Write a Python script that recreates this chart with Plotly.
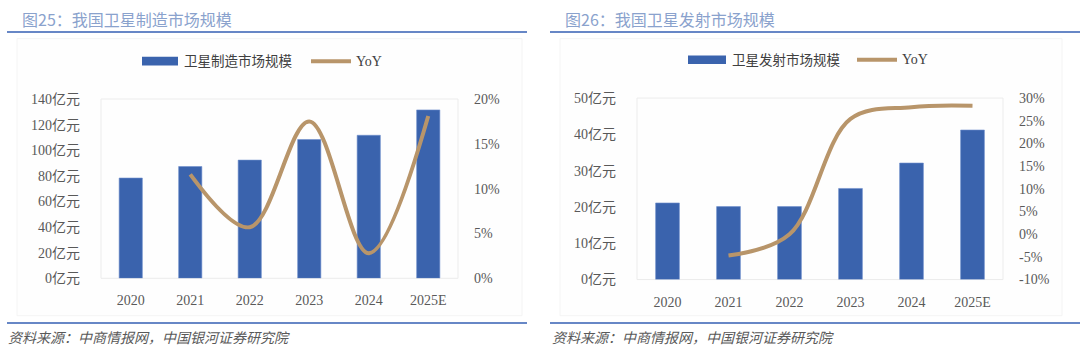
import plotly.graph_objects as go

# ---------------- data ----------------
years = ["2020", "2021", "2022", "2023", "2024", "2025E"]

mfg_title = "图25：我国卫星制造市场规模"
mfg_name = "卫星制造市场规模"
mfg_values = [78.3, 87.3, 92.3, 108.4, 111.7, 131.5]          # 亿元
mfg_yoy = [None, 0.116, 0.057, 0.175, 0.028, 0.181]

launch_title = "图26：我国卫星发射市场规模"
launch_name = "卫星发射市场规模"
launch_values = [21.1, 20.1, 20.1, 25.1, 32.1, 41.2]          # 亿元
launch_yoy = [None, -0.047, 0.0, 0.254, 0.28, 0.283]

yoy_name = "YoY"
source_text = "资料来源：中商情报网，中国银河证券研究院"

unit = "亿元"
left_ticks = [0, 20, 40, 60, 80, 100, 120, 140]
left_pct_ticks = [0, 0.05, 0.10, 0.15, 0.20]
left_pct_text = ["0%", "5%", "10%", "15%", "20%"]
right_ticks = [0, 10, 20, 30, 40, 50]
right_pct_ticks = [-0.10, -0.05, 0, 0.05, 0.10, 0.15, 0.20, 0.25, 0.30]
right_pct_text = ["-10%", "-5%", "0%", "5%", "10%", "15%", "20%", "25%", "30%"]

# ---------------- style ----------------
W, H = 1080, 363
BAR = "#3a63ad"
LINE = "#b8956a"
TICK = "#595959"
SERIF = "Liberation Serif, Noto Sans CJK SC, serif"
SANS = "Noto Sans CJK SC, sans-serif"


def px(x):
    return x / W


def py(y):
    return 1 - y / H


fig = go.Figure()

fig.add_trace(go.Bar(x=years, y=mfg_values, name=mfg_name,
                     marker=dict(color=BAR, line=dict(color="#6f8fcc", width=0.6)),
                     width=0.39, xaxis="x", yaxis="y", showlegend=False))
fig.add_trace(go.Scatter(x=years, y=mfg_yoy, name=yoy_name, mode="lines",
                         line=dict(color=LINE, width=4, shape="spline", smoothing=1.0),
                         xaxis="x", yaxis="y2", showlegend=False))
fig.add_trace(go.Bar(x=years, y=launch_values, name=launch_name,
                     marker=dict(color=BAR, line=dict(color="#6f8fcc", width=0.6)),
                     width=0.39, xaxis="x2", yaxis="y3", showlegend=False))
fig.add_trace(go.Scatter(x=years, y=launch_yoy, name=yoy_name, mode="lines",
                         line=dict(color=LINE, width=4, shape="spline", smoothing=1.0),
                         xaxis="x2", yaxis="y4", showlegend=False))

tickfont = dict(family=SERIF, size=14, color=TICK)

L_dom_x = [px(101), px(458)]
L_dom_y = [py(283), py(96)]
R_dom_x = [px(637), px(1003)]
R_dom_y = [py(284.3), py(95)]

fig.update_layout(
    autosize=True,
    margin=dict(l=0, r=0, t=0, b=0),
    paper_bgcolor="white", plot_bgcolor="rgba(0,0,0,0)",
    xaxis=dict(domain=L_dom_x, anchor="y", tickfont=tickfont, showgrid=False, ticks="",
               ticklabelstandoff=12),
    yaxis=dict(domain=L_dom_y, anchor="x", range=[0, 140], tickvals=left_ticks,
               ticktext=[f"{v}{unit}" for v in left_ticks],
               tickfont=tickfont, showgrid=False, zeroline=False, ticklabelstandoff=20),
    yaxis2=dict(overlaying="y", side="right", anchor="x", range=[0, 0.20], tickvals=left_pct_ticks,
                ticktext=left_pct_text, tickfont=tickfont, showgrid=False, zeroline=False,
                ticklabelstandoff=15),
    xaxis2=dict(domain=R_dom_x, anchor="y3", tickfont=tickfont, showgrid=False, ticks="",
                ticklabelstandoff=12),
    yaxis3=dict(domain=R_dom_y, anchor="x2", range=[0, 50], tickvals=right_ticks,
                ticktext=[f"{v}{unit}" for v in right_ticks],
                tickfont=tickfont, showgrid=False, zeroline=False, ticklabelstandoff=20),
    yaxis4=dict(overlaying="y3", side="right", anchor="x2", range=[-0.10, 0.30], tickvals=right_pct_ticks,
                ticktext=right_pct_text, tickfont=tickfont, showgrid=False, zeroline=False,
                ticklabelstandoff=15),
)

shapes = []
annotations = []

# panel frames (very faint) and plot-area boxes
for (x0, x1) in [(17, 522), (560, 1062)]:
    shapes.append(dict(type="rect", xref="paper", yref="paper", x0=px(x0), x1=px(x1), y0=py(322), y1=py(33),
                       line=dict(color="#f4f4f4", width=1), fillcolor="#fefefe", layer="below"))
for dx, dy in [(L_dom_x, L_dom_y), (R_dom_x, R_dom_y)]:
    shapes.append(dict(type="rect", xref="paper", yref="paper", x0=dx[0], x1=dx[1], y0=dy[0], y1=dy[1],
                       line=dict(color="#ececec", width=1), fillcolor="rgba(0,0,0,0)", layer="below"))

# title and bottom separator lines
for (x0, x1) in [(7, 527), (550, 1080)]:
    for y in (26, 329.5):
        shapes.append(dict(type="line", xref="paper", yref="paper", x0=px(x0), x1=px(x1), y0=py(y), y1=py(y),
                           line=dict(color="#6787c6", width=2)))

# titles
for x, txt in [(20, mfg_title), (563, launch_title)]:
    annotations.append(dict(xref="paper", yref="paper", x=px(x), y=py(12), xanchor="left", yanchor="middle",
                            text=txt, showarrow=False,
                            font=dict(family=SANS, size=16, color="#8aa2cd")))

# sources
for x in (6, 550):
    annotations.append(dict(xref="paper", yref="paper", x=px(x), y=py(344), xanchor="left", yanchor="middle",
                            text=source_text, showarrow=False,
                            font=dict(family=SANS, size=14, color="#595959", style="italic")))

# custom legends
legend_specs = [
    (142, 178, 56.5, mfg_name, 311, 351),
    (688, 726, 55, launch_name, 857, 897),
]
for bx0, bx1, ly, nm, lx0, lx1 in legend_specs:
    shapes.append(dict(type="rect", xref="paper", yref="paper", x0=px(bx0), x1=px(bx1), y0=py(ly + 4.5),
                       y1=py(ly - 4.5), line=dict(width=0), fillcolor=BAR))
    annotations.append(dict(xref="paper", yref="paper", x=px(bx1 + 4), y=py(ly), xanchor="left",
                            yanchor="middle", text=nm, showarrow=False,
                            font=dict(family=SERIF, size=13.5, color="#404040")))
    shapes.append(dict(type="line", xref="paper", yref="paper", x0=px(lx0), x1=px(lx1), y0=py(ly), y1=py(ly),
                       line=dict(color=LINE, width=4)))
    annotations.append(dict(xref="paper", yref="paper", x=px(lx1 + 3), y=py(ly), xanchor="left",
                            yanchor="middle", text=yoy_name, showarrow=False,
                            font=dict(family=SERIF, size=14, color="#404040")))

fig.update_layout(shapes=shapes, annotations=annotations)

post = (
    "var s=document.createElement('style');"
    "s.innerHTML='html,body{margin:0;padding:0;height:100%;width:100%;overflow:hidden;}';"
    "document.head.appendChild(s);"
    "var gd=document.getElementById('{plot_id}');"
    "gd.parentElement.style.height='100%';gd.parentElement.style.width='100%';gd.parentElement.style.margin='0';"
    "gd.style.height='100%';gd.style.width='100%';"
    "Plotly.Plots.resize(gd);"
)

fig.write_html("out.html", config={"displayModeBar": False, "responsive": True},
               default_width="100%", default_height="100%", post_script=post)
